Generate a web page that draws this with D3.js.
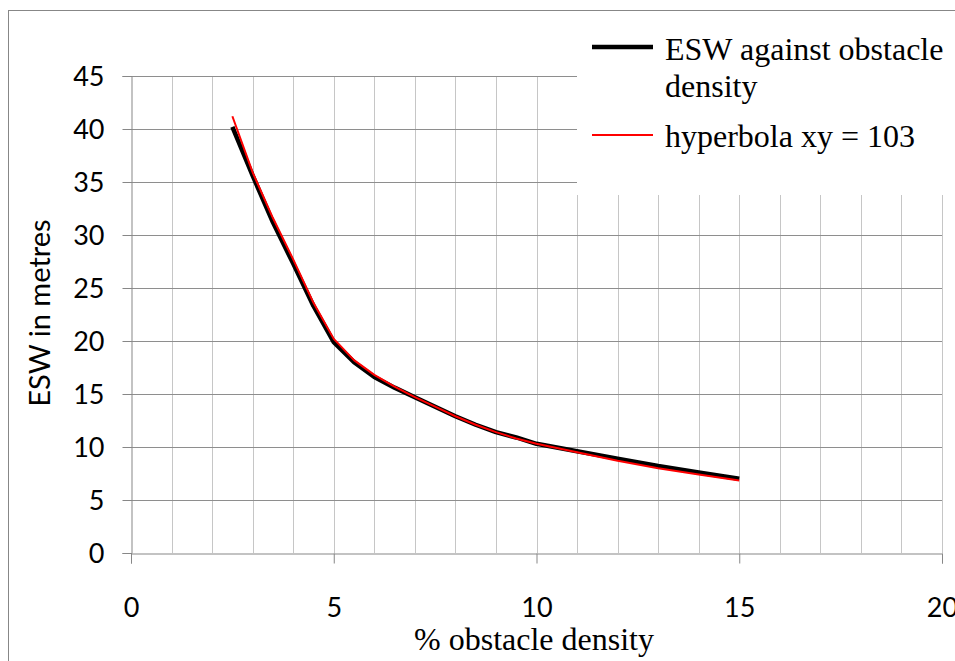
<!DOCTYPE html>
<html><head><meta charset="utf-8">
<script src="https://cdn.jsdelivr.net/npm/d3@7"></script>
<style>
html,body{margin:0;padding:0;background:#fff;}
svg{display:block;}
</style></head>
<body>
<svg id="c" width="955" height="661"></svg>
<script>
// ---- data ----
const density = [2.5, 3, 3.5, 4, 4.5, 5, 5.5, 6, 6.5, 7, 7.5, 8, 8.5, 9, 9.5, 10, 11, 12, 13, 14, 15];
const eswValues = [40.2, 35.6, 31.2, 27.3, 23.3, 19.9, 18.0, 16.6, 15.6, 14.7, 13.8, 12.9, 12.1, 11.4, 10.9, 10.3, 9.6, 8.9, 8.2, 7.6, 7.0];
const hyperbolaValues = [41.2, 35.9, 31.6, 27.7, 23.6, 20.2, 18.2, 16.8, 15.7, 14.7, 13.8, 12.9, 12.1, 11.4, 10.8, 10.3, 9.5, 8.7, 8.0, 7.4, 6.85];
const xTicks = [0, 5, 10, 15, 20];
const yTicks = [0, 5, 10, 15, 20, 25, 30, 35, 40, 45];
const seriesNames = ["ESW against obstacle", "density", "hyperbola xy = 103"];
const xTitle = "% obstacle density";
const yTitle = "ESW in metres";

const svg = d3.select("#c");
const X0 = 131, X1 = 942, Y0 = 553, Y1 = 76;
const x = d3.scaleLinear().domain([0, 20]).range([X0, X1]);
const y = d3.scaleLinear().domain([0, 45]).range([Y0, Y1]);
const tickFont = "Lato, 'Open Sans', sans-serif";
const serif = "'Liberation Serif', 'Times New Roman', serif";

// outer frame
svg.append("rect").attr("x", 8.5).attr("y", 10.5).attr("width", 1000).attr("height", 1000)
  .attr("fill", "#fff").attr("stroke", "#878787").attr("stroke-width", 1);

// vertical minor gridlines
svg.append("g").selectAll("line").data(d3.range(1, 21)).join("line")
  .attr("x1", d => Math.round(x(d)) + 0.5).attr("x2", d => Math.round(x(d)) + 0.5)
  .attr("y1", Y1).attr("y2", Y0).attr("stroke", "#c6c6c6").attr("stroke-width", 1);
// horizontal gridlines
svg.append("g").selectAll("line").data(yTicks.filter(d => d > 0)).join("line")
  .attr("x1", X0).attr("x2", X1)
  .attr("y1", d => Math.round(y(d)) + 0.5).attr("y2", d => Math.round(y(d)) + 0.5)
  .attr("stroke", "#8e8e8e").attr("stroke-width", 1);

// legend background (covers grid)
svg.append("rect").attr("x", 577).attr("y", 12).attr("width", 400).attr("height", 183).attr("fill", "#fff");

// axes
const xAxis = d3.axisBottom(x).tickValues(xTicks).tickSize(10).tickPadding(0).tickFormat(d3.format("d"));
const gx = svg.append("g").attr("transform", `translate(0,${Math.round(Y0) + 0.5})`).call(xAxis);
gx.select(".domain").attr("stroke", "#878787");
gx.selectAll(".tick line").attr("stroke", "#878787");
gx.selectAll(".tick text").attr("font-family", tickFont).attr("font-size", 27).attr("fill", "#000")
  .attr("dy", null).attr("y", 63);

const yAxis = d3.axisLeft(y).tickValues(yTicks).tickSize(9).tickPadding(18).tickFormat(d3.format("d"));
const gy = svg.append("g").attr("transform", `translate(${X0 + 0.5},0)`).call(yAxis);
gy.select(".domain").attr("stroke", "#878787");
gy.selectAll(".tick line").attr("stroke", "#878787");
gy.selectAll(".tick text").attr("font-family", tickFont).attr("font-size", 27).attr("fill", "#000")
  .attr("dy", "0.36em");

// titles
svg.append("text").attr("x", 534).attr("y", 650).attr("text-anchor", "middle")
  .attr("font-family", serif).attr("font-size", 32).text(xTitle);
svg.append("text").attr("transform", "translate(50,313) rotate(-90)").attr("text-anchor", "middle")
  .attr("font-family", tickFont).attr("font-size", 29).text(yTitle);

// lines
const line = d3.line().x(d => x(d[0])).y(d => y(d[1]));
svg.append("path").datum(density.map((d, i) => [d, eswValues[i]]))
  .attr("d", line).attr("fill", "none").attr("stroke", "#000").attr("stroke-width", 4.5)
  .attr("stroke-linejoin", "round");
svg.append("path").datum(density.map((d, i) => [d, hyperbolaValues[i]]))
  .attr("d", line).attr("fill", "none").attr("stroke", "#ff0000").attr("stroke-width", 2)
  .attr("stroke-linejoin", "round");

// legend
const lg = svg.append("g");
lg.append("line").attr("x1", 592).attr("x2", 653).attr("y1", 47).attr("y2", 47)
  .attr("stroke", "#000").attr("stroke-width", 4.5);
lg.append("text").attr("x", 665).attr("y", 60).attr("font-family", serif).attr("font-size", 32).text(seriesNames[0]);
lg.append("text").attr("x", 665).attr("y", 97).attr("font-family", serif).attr("font-size", 32).text(seriesNames[1]);
lg.append("line").attr("x1", 592).attr("x2", 653).attr("y1", 135).attr("y2", 135)
  .attr("stroke", "#ff0000").attr("stroke-width", 2);
lg.append("text").attr("x", 665).attr("y", 147).attr("font-family", serif).attr("font-size", 32).text(seriesNames[2]);
</script>
</body></html>
